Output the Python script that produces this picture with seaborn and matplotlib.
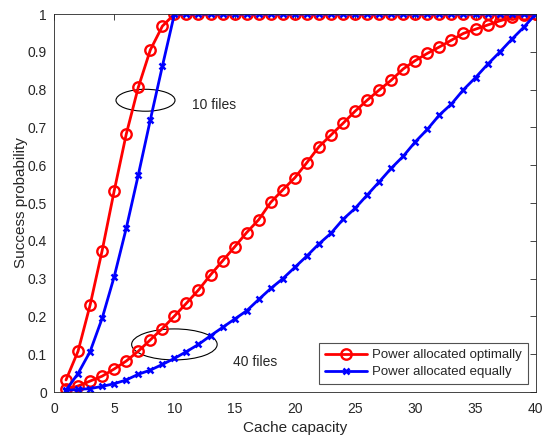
import matplotlib
matplotlib.use("Agg")
import matplotlib.pyplot as plt
import seaborn as sns
from matplotlib.patches import Ellipse

cache = list(range(1, 41))

opt_10 = [0.032, 0.108, 0.230, 0.374, 0.532, 0.682, 0.806, 0.905, 0.968, 1.0,
          1.0, 1.0, 1.0, 1.0, 1.0, 1.0, 1.0, 1.0, 1.0, 1.0,
          1.0, 1.0, 1.0, 1.0, 1.0, 1.0, 1.0, 1.0, 1.0, 1.0,
          1.0, 1.0, 1.0, 1.0, 1.0, 1.0, 1.0, 1.0, 1.0, 1.0]
eq_10 = [0.005, 0.049, 0.107, 0.195, 0.305, 0.433, 0.574, 0.720, 0.862, 1.0,
         1.0, 1.0, 1.0, 1.0, 1.0, 1.0, 1.0, 1.0, 1.0, 1.0,
         1.0, 1.0, 1.0, 1.0, 1.0, 1.0, 1.0, 1.0, 1.0, 1.0,
         1.0, 1.0, 1.0, 1.0, 1.0, 1.0, 1.0, 1.0, 1.0, 1.0]
opt_40 = [0.007, 0.016, 0.029, 0.042, 0.061, 0.082, 0.108, 0.138, 0.168, 0.201,
          0.235, 0.270, 0.310, 0.347, 0.384, 0.422, 0.456, 0.502, 0.535, 0.567,
          0.607, 0.649, 0.680, 0.711, 0.743, 0.772, 0.799, 0.825, 0.855, 0.877,
          0.896, 0.913, 0.931, 0.949, 0.960, 0.971, 0.982, 0.991, 0.997, 1.0]
eq_40 = [0.004, 0.007, 0.009, 0.015, 0.022, 0.032, 0.047, 0.058, 0.073, 0.089,
         0.107, 0.126, 0.149, 0.171, 0.193, 0.215, 0.245, 0.274, 0.300, 0.330,
         0.360, 0.392, 0.420, 0.457, 0.486, 0.521, 0.556, 0.592, 0.624, 0.662,
         0.695, 0.733, 0.762, 0.800, 0.832, 0.867, 0.899, 0.933, 0.965, 1.0]

sns.set_style("white")
plt.rcParams['font.family'] = ['Liberation Sans', 'DejaVu Sans']

fig = plt.figure(figsize=(5.45, 4.4), dpi=100)
ax = fig.add_axes([0.099, 0.109, 0.884, 0.859])

red_kw = dict(color='red', marker='o', markersize=7.5, markerfacecolor='none',
              markeredgecolor='red', markeredgewidth=1.7, linewidth=2)
blue_kw = dict(color='blue', marker='x', markersize=5, markeredgecolor='blue',
               markeredgewidth=1.8, linewidth=2)

sns.lineplot(x=cache, y=opt_10, ax=ax, label='Power allocated optimally', **red_kw)
sns.lineplot(x=cache, y=opt_40, ax=ax, **red_kw)
sns.lineplot(x=cache, y=eq_10, ax=ax, label='Power allocated equally', **blue_kw)
sns.lineplot(x=cache, y=eq_40, ax=ax, **blue_kw)

ax.add_patch(Ellipse((7.6, 0.772), 4.9, 0.058, fill=False, edgecolor='black', linewidth=0.8))
ax.add_patch(Ellipse((10.0, 0.126), 7.1, 0.082, fill=False, edgecolor='black', linewidth=0.8))
ax.text(11.5, 0.76, '10 files', fontsize=10, va='center')
ax.text(14.9, 0.08, '40 files', fontsize=10, va='center')

ax.set_xlim(0, 40)
ax.set_ylim(0, 1)
ax.set_xticks(range(0, 41, 5))
ax.set_yticks([i / 10 for i in range(11)])
ax.set_yticklabels(['0', '0.1', '0.2', '0.3', '0.4', '0.5', '0.6', '0.7', '0.8', '0.9', '1'])
ax.set_xlabel('Cache capacity', fontsize=11, color='#262626', labelpad=4)
ax.set_ylabel('Success probability', fontsize=11, color='#262626', labelpad=0)
ax.tick_params(direction='in', top=True, right=True, length=4, width=0.6,
               labelsize=10, colors='#262626')
ax.tick_params(axis='x', pad=7)
ax.tick_params(axis='y', pad=5)
for s in ax.spines.values():
    s.set_color('#262626')
    s.set_linewidth(0.6)

leg = ax.legend(loc='lower right', fontsize=9.5, frameon=True, fancybox=False,
                edgecolor='#262626', handlelength=3.2, borderpad=0.45,
                labelspacing=0.35, handletextpad=0.4, borderaxespad=0.6)
leg.get_frame().set_linewidth(0.8)

fig.savefig('out.png', dpi=100)
